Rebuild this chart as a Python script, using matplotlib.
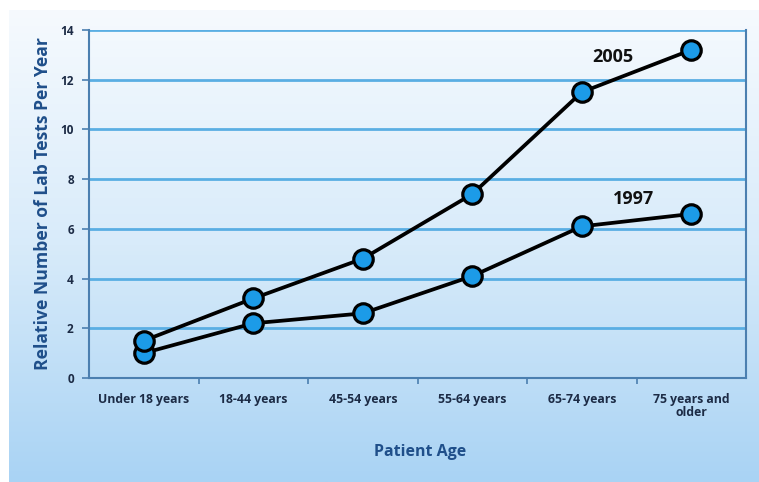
import numpy as np
import matplotlib.pyplot as plt
from matplotlib.colors import LinearSegmentedColormap

categories = ["Under 18 years", "18-44 years", "45-54 years", "55-64 years", "65-74 years", "75 years and\nolder"]
tests_2005 = [1.5, 3.2, 4.8, 7.4, 11.5, 13.2]
tests_1997 = [1.0, 2.2, 2.6, 4.1, 6.1, 6.6]
y_ticks = [0, 2, 4, 6, 8, 10, 12, 14]

navy = "#1c2b45"
blue_text = "#1f4f8a"
grid_blue = "#5aaee3"
marker_fill = "#1c9be8"

plt.rcParams['font.family'] = ['Open Sans', 'DejaVu Sans']

fig = plt.figure(figsize=(7.59, 4.82), dpi=100)
fig.patch.set_facecolor("white")

# background gradient
bg = fig.add_axes([0.012, 0.0, 0.988, 0.98])
bg.set_axis_off()
grad = np.linspace(0, 1, 256).reshape(-1, 1)
cmap = LinearSegmentedColormap.from_list("bg", ["#f6fafe", "#d8ebfa", "#a9d3f4"])
bg.imshow(grad, aspect="auto", cmap=cmap, extent=[0, 1, 0, 1], origin="upper")

ax = fig.add_axes([0.1173, 0.2158, 0.8657, 0.722])
ax.patch.set_alpha(0)
x = np.arange(len(categories))

for yt in y_ticks[1:]:
    ax.axhline(yt, color=grid_blue, lw=2, zorder=1)

style = dict(color="black", lw=2.7, marker="o", markersize=14,
             markerfacecolor=marker_fill, markeredgecolor="black",
             markeredgewidth=2.3, zorder=3)
ax.plot(x, tests_1997, **style)
ax.plot(x, tests_2005, **style)

ax.text(4.28, 12.9, "2005", fontsize=13, fontweight="bold", color="#111111", ha="center", va="center")
ax.text(4.47, 7.2, "1997", fontsize=13, fontweight="bold", color="#111111", ha="center", va="center")

ax.set_xlim(-0.5, 5.5)
ax.set_ylim(0, 14)
ax.set_yticks(y_ticks)
ax.set_yticklabels([str(v) for v in y_ticks], fontsize=8.5, fontweight="bold", color=navy)
ax.set_xticks(x)
ax.set_xticklabels(categories, fontsize=8.8, fontweight="bold", color=navy, linespacing=0.95)
ax.set_xticks(np.arange(0.5, 5.5, 1), minor=True)
ax.tick_params(axis="x", which="major", length=0, pad=11)
ax.tick_params(axis="x", which="minor", length=4, color="#4b7fb0", width=1.2, direction="out")
ax.tick_params(axis="y", length=5, color="#4b7fb0", width=1.2, pad=6)

for side in ["left", "bottom", "right"]:
    ax.spines[side].set_color("#4b7fb0")
    ax.spines[side].set_linewidth(1.5)
ax.spines["top"].set_visible(False)

ax.set_ylabel("Relative Number of Lab Tests Per Year", fontsize=12.6, fontweight="bold", color=blue_text, labelpad=6)
fig.text(0.553, 0.062, "Patient Age", fontsize=11.5, fontweight="bold", color=blue_text, ha="center", va="center")

fig.savefig("out.png", dpi=100)
